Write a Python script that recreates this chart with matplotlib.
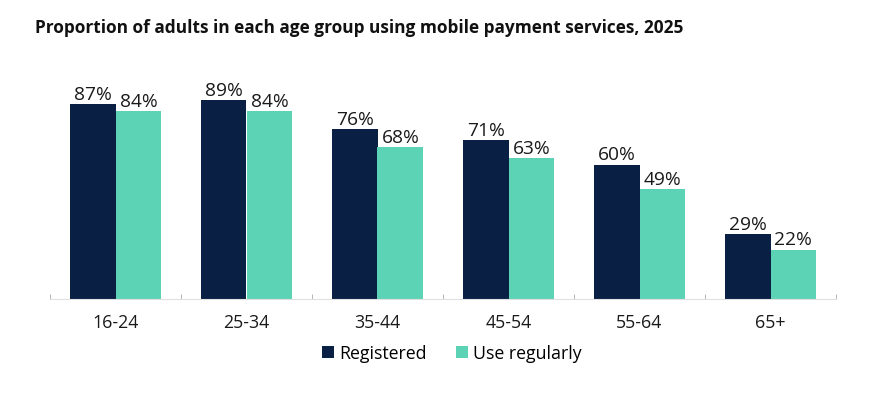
import numpy as np
import matplotlib
matplotlib.use('Agg')
import matplotlib.pyplot as plt

groups = ['16-24', '25-34', '35-44', '45-54', '55-64', '65+']
registered = [87, 89, 76, 71, 60, 29]
use_regularly = [84, 84, 68, 63, 49, 22]

navy = '#0a1f44'
teal = '#5dd3b5'

plt.rcParams['font.family'] = ['Open Sans', 'DejaVu Sans']

fig = plt.figure(figsize=(8.9, 4.1), dpi=100)
ax = fig.add_axes([50/890, 110/410, 786/890, 223.6/410])

x = np.arange(len(groups))
w = 0.35
b1 = ax.bar(x - w/2, registered, w, color=navy, label='Registered')
b2 = ax.bar(x + w/2, use_regularly, w, color=teal, label='Use regularly')

for bars, vals in ((b1, registered), (b2, use_regularly)):
	for r, v in zip(bars, vals):
		ax.text(r.get_x() + r.get_width()/2, v + 0.6, '%d%%' % v,
				ha='center', va='bottom', fontsize=13.8, color='#1a1a1a')

ax.set_xlim(-0.5, len(groups) - 0.5)
ax.set_ylim(0, 100)
ax.set_yticks([])
ax.set_xticks(x)
ax.set_xticklabels(groups, fontsize=12.8, color='#1a1a1a')
ax.set_xticks(np.arange(len(groups) + 1) - 0.5, minor=True)
ax.tick_params(axis='x', which='major', length=0, pad=10)
ax.tick_params(axis='x', which='minor', length=3.5, direction='in', color='#aaaaaa')
for s in ['left', 'right', 'top']:
	ax.spines[s].set_visible(False)
ax.spines['bottom'].set_color('#e0e0e0')

fig.text(35/890, 1 - 28/410, 'Proportion of adults in each age group using mobile payment services, 2025',
		 fontsize=12.4, fontweight='bold', va='center', ha='left', color='#111111')

fig.legend(handles=[b1, b2], loc='center', bbox_to_anchor=(452/890, 1 - 354/410),
		   ncol=2, frameon=False, fontsize=12.8, handlelength=0.7, handleheight=0.7,
		   handletextpad=0.3, columnspacing=1.6)

fig.savefig('out.png', dpi=100)
